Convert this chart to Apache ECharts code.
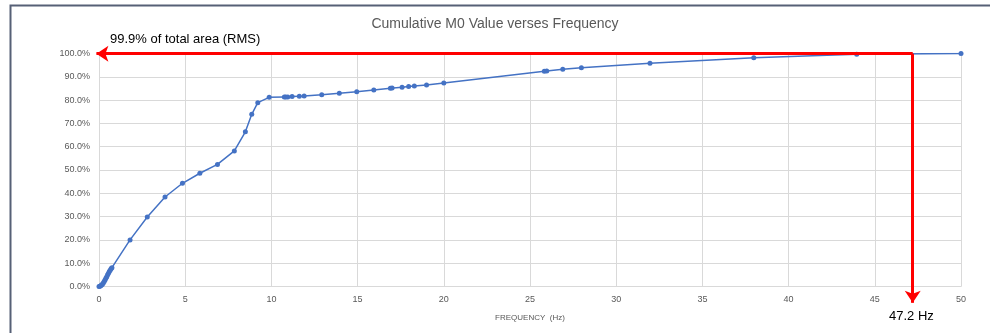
<!DOCTYPE html>
<html>
<head>
<meta charset="utf-8">
<script src="https://cdn.jsdelivr.net/npm/echarts@6/dist/echarts.min.js"></script>
<style>
  html, body { margin: 0; padding: 0; background: #ffffff; }
  #chart { width: 990px; height: 333px; }
</style>
</head>
<body>
<div id="chart"></div>
<script>
// Frequency bins (Hz) and cumulative M0 share (%)
var frequency = [
  0, 0.05, 0.1, 0.15, 0.2, 0.25, 0.3, 0.35, 0.4, 0.45, 0.5, 0.55, 0.6, 0.65, 0.7, 0.75,
  1.8, 2.8, 3.83, 4.84, 5.85, 6.87, 7.85, 8.49, 8.86, 9.21, 9.87,
  10.75, 10.83, 10.95, 11.2, 11.62, 11.9, 12.92, 13.94, 14.95, 15.94,
  16.9, 17.0, 17.58, 17.96, 18.29, 19.0, 20.0,
  25.83, 25.97, 26.9, 27.98, 31.96, 37.98, 43.95, 50.0
];
var cumulativeM0 = [
  0, 0.1, 0.3, 0.6, 1.0, 1.5, 2.1, 2.8, 3.5, 4.2, 5.0, 5.7, 6.4, 7.0, 7.6, 8.1,
  20.0, 29.8, 38.4, 44.3, 48.6, 52.4, 58.2, 66.4, 73.9, 78.9, 81.2,
  81.3, 81.3, 81.3, 81.5, 81.6, 81.8, 82.3, 82.9, 83.6, 84.3,
  85.1, 85.2, 85.5, 85.8, 86.1, 86.5, 87.3,
  92.4, 92.5, 93.2, 93.9, 95.8, 98.2, 99.7, 100.0
];

// Marked threshold: 99.9% of the total area reached at 47.2 Hz
var thresholdShare = 99.9;
var thresholdFreq = 47.2;
// Where the two arrows stop, just outside the plot edges
var arrowLeftFreq = -0.15;
var arrowBottomShare = -7;

var xTicks = { min: 0, max: 50, interval: 5 };
var yTicks = { min: 0, max: 100, interval: 10 };

var points = frequency.map(function (f, i) { return [f, cumulativeM0[i]]; });

var chart = echarts.init(document.getElementById('chart'), null, { renderer: 'canvas' });

var labelFont = '"Liberation Sans", Arial, sans-serif';
var gridColor = '#d9d9d9';
var textGrey = '#595959';
var red = '#ff0000';

chart.setOption({
  animation: false,
  backgroundColor: '#ffffff',
  title: {
    text: 'Cumulative M0 Value verses Frequency',
    left: 'center',
    top: 12,
    textStyle: { fontFamily: labelFont, fontSize: 14, fontWeight: 'normal', color: textGrey }
  },
  grid: { left: 99, right: 29, top: 53.5, bottom: 46.5 },
  xAxis: {
    type: 'value',
    min: xTicks.min, max: xTicks.max, interval: xTicks.interval,
    name: 'FREQUENCY  (Hz)',
    nameLocation: 'middle',
    nameGap: 27,
    nameTextStyle: { fontFamily: labelFont, fontSize: 8, color: textGrey },
    axisLine: { show: true, lineStyle: { color: gridColor, width: 1 } },
    axisTick: { show: false },
    axisLabel: { fontFamily: labelFont, fontSize: 9, color: textGrey, margin: 9 },
    splitLine: { show: true, lineStyle: { color: gridColor, width: 1 } }
  },
  yAxis: {
    type: 'value',
    min: yTicks.min, max: yTicks.max, interval: yTicks.interval,
    axisLine: { show: false },
    axisTick: { show: false },
    axisLabel: {
      fontFamily: labelFont, fontSize: 9, color: textGrey, margin: 9,
      formatter: function (v) { return v.toFixed(1) + '%'; }
    },
    splitLine: { show: true, lineStyle: { color: gridColor, width: 1 } }
  },
  series: [
    {
      name: 'Cumulative M0',
      type: 'line',
      data: points,
      symbol: 'circle',
      symbolSize: 5,
      itemStyle: { color: '#4472c4' },
      lineStyle: { color: '#4472c4', width: 1.5 },
      z: 3
    },
    {
      name: 'Threshold',
      type: 'lines',
      coordinateSystem: 'cartesian2d',
      clip: false,
      silent: true,
      z: 4,
      symbol: ['none', 'arrow'],
      symbolSize: [11, 12],
      lineStyle: { color: red, width: 3, type: 'solid', opacity: 1 },
      data: [
        { coords: [[thresholdFreq, thresholdShare], [arrowLeftFreq, thresholdShare]] },
        { coords: [[thresholdFreq, thresholdShare], [thresholdFreq, arrowBottomShare]] }
      ]
    }
  ],
  graphic: [
    {
      type: 'rect',
      shape: { x: 10.5, y: 5.5, width: 1000, height: 400 },
      style: { fill: 'none', stroke: '#566076', lineWidth: 2 },
      silent: true
    },
    {
      type: 'text',
      left: 110, top: 33,
      style: { text: '99.9% of total area (RMS)', fontFamily: labelFont, fontSize: 13, fill: '#000000' }
    },
    {
      type: 'text',
      left: 889, top: 310,
      style: { text: '47.2 Hz', fontFamily: labelFont, fontSize: 13, fill: '#000000' }
    }
  ]
});
</script>
</body>
</html>
